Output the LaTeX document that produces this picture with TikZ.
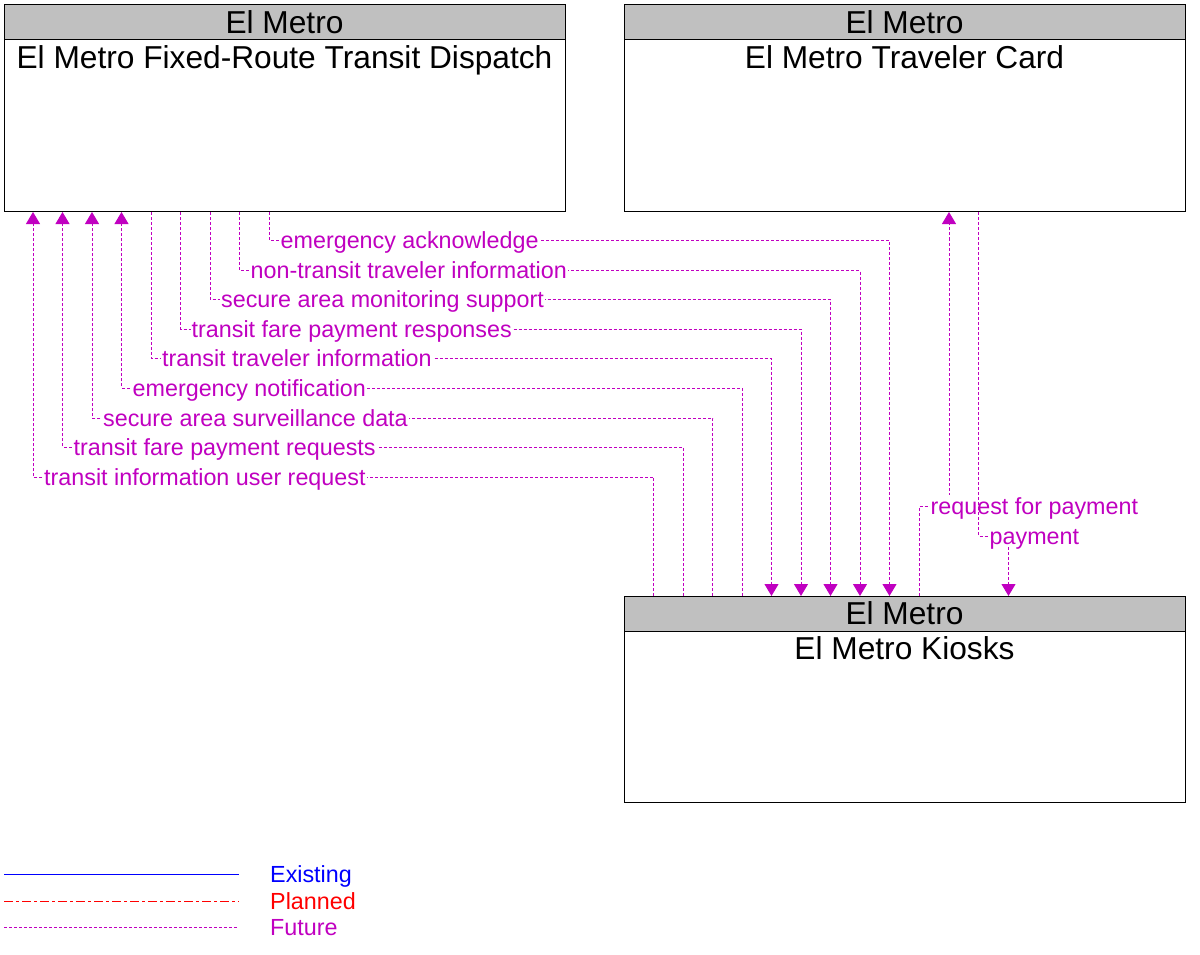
\documentclass[tikz,border=0pt]{standalone}
\usepackage{fontspec}
\setmainfont{Liberation Sans}
\usetikzlibrary{arrows.meta}
\definecolor{fut}{RGB}{192,0,192}
\definecolor{hdr}{RGB}{192,192,192}
\begin{document}
\begin{tikzpicture}[x=1bp,y=-1bp,
 box/.style={draw=black, line width=1bp, fill=white, minimum width=561bp, minimum height=207bp, anchor=north west, inner sep=0},
 hdrbar/.style={draw=black, line width=1bp, fill=hdr, minimum width=561bp, minimum height=35bp, anchor=north west, inner sep=0},
 ttl/.style={font=\fontsize{31.8}{36}\selectfont, anchor=base, inner sep=0},
 lab/.style={font=\fontsize{23.4}{28}\selectfont, text=fut, fill=white, inner xsep=1bp, inner ysep=0.5bp, text height=18.5bp, text depth=2.5bp, anchor=west},
 leg/.style={font=\fontsize{23.4}{28}\selectfont, inner sep=0, anchor=west, text height=18.5bp, text depth=2.5bp},
 fl/.style={draw=fut, line width=1bp, dash pattern=on 3bp off 2bp, -{Triangle[width=14bp,length=12bp]}},
]
\useasboundingbox (0,0) rectangle (1200,955);
% boxes
\node[box] (disp) at (4,4) {};
\node[hdrbar] (disph) at (4,4) {};
\node[ttl] (dispt) at (284.5,33) {El Metro};
\node[ttl] (dispn) at (284.5,68) {El Metro Fixed-Route Transit Dispatch};

\node[box] (card) at (624,4) {};
\node[hdrbar] (cardh) at (624,4) {};
\node[ttl] (cardt) at (904.5,33) {El Metro};
\node[ttl] (cardn) at (904.5,68) {El Metro Traveler Card};

\node[box, minimum height=206bp] (kiosk) at (624,596) {};
\node[hdrbar] (kioskh) at (624,596) {};
\node[ttl] (kioskt) at (904.5,624) {El Metro};
\node[ttl] (kioskn) at (904.5,659) {El Metro Kiosks};

% Dispatch -> Kiosks
\draw[fl] (269.5,0 |- disp.south) |- (889.5,240.5) -- (889.5,0 |- kiosk.north);
\node[lab] (l1) at (279.5,240.5) {emergency acknowledge};
\draw[fl] (239.5,0 |- disp.south) |- (860,270.5) -- (860,0 |- kiosk.north);
\node[lab] (l2) at (249.5,270.5) {non-transit traveler information};
\draw[fl] (210,0 |- disp.south) |- (830.5,299.5) -- (830.5,0 |- kiosk.north);
\node[lab] (l3) at (220,299.5) {secure area monitoring support};
\draw[fl] (180.5,0 |- disp.south) |- (801,329) -- (801,0 |- kiosk.north);
\node[lab] (l4) at (190.5,329) {transit fare payment responses};
\draw[fl] (151,0 |- disp.south) |- (771.5,358.5) -- (771.5,0 |- kiosk.north);
\node[lab] (l5) at (161,358.5) {transit traveler information};
% Kiosks -> Dispatch
\draw[fl] (742,0 |- kiosk.north) |- (121.5,388) -- (121.5,0 |- disp.south);
\node[lab] (l6) at (131.5,388) {emergency notification};
\draw[fl] (712.5,0 |- kiosk.north) |- (92,418) -- (92,0 |- disp.south);
\node[lab] (l7) at (102,418) {secure area surveillance data};
\draw[fl] (683,0 |- kiosk.north) |- (62.5,447) -- (62.5,0 |- disp.south);
\node[lab] (l8) at (72.5,447) {transit fare payment requests};
\draw[fl] (653.5,0 |- kiosk.north) |- (33,477) -- (33,0 |- disp.south);
\node[lab] (l9) at (43,477) {transit information user request};
% Kiosks <-> Traveler Card
\draw[fl] (919.5,0 |- kiosk.north) |- (949,506) -- (949,0 |- card.south);
\node[lab] (l10) at (929.5,506) {request for payment};
\draw[fl] (978.5,0 |- card.south) |- (1008.5,536) -- (1008.5,0 |- kiosk.north);
\node[lab] (l11) at (988.5,536) {payment};

% legend
\coordinate (e1) at (4,874); \coordinate (e2) at (239,874);
\coordinate (p1) at (4,901); \coordinate (p2) at (239,901);
\coordinate (f1) at (4,927); \coordinate (f2) at (239,927);
\draw[blue, line width=1bp] (e1) -- (e2);
\draw[red, line width=1bp, dash pattern=on 9bp off 3bp on 3bp off 3bp] (p1) -- (p2);
\draw[fut, line width=1bp, dash pattern=on 3bp off 2bp] (f1) -- (f2);
\node[leg, text=blue] (le) at (270,874) {Existing};
\node[leg, text=red] (lp) at (270,901) {Planned};
\node[leg, text=fut] (lf) at (270,927) {Future};
\end{tikzpicture}
\end{document}
